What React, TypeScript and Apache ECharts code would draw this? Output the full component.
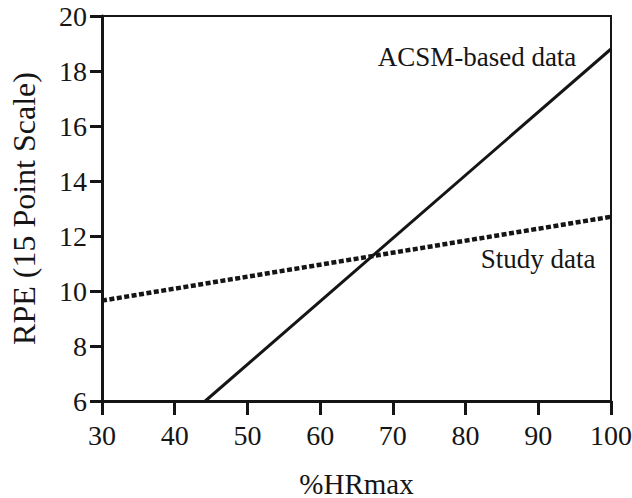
import React, { useEffect, useRef } from "react";
import * as echarts from "echarts";

const acsmX = [44.2, 100];
const acsmY = [6, 18.8];
const studyX = [30, 100];
const studyY = [9.65, 12.7];
const xTicks = [30, 40, 50, 60, 70, 80, 90, 100];
const yTicks = [6, 8, 10, 12, 14, 16, 18, 20];
const acsmName = "ACSM-based data";
const studyName = "Study data";

const FONT = "Liberation Serif";
const INK = "#151515";

export default function App() {
  const ref = useRef<HTMLDivElement>(null);
  useEffect(() => {
    if (!ref.current) return;
    const chart = echarts.init(ref.current, null, { renderer: "svg" });
    chart.setOption({
      animation: false,
      backgroundColor: "#ffffff",
      textStyle: { fontFamily: FONT, color: INK },
      grid: {
        left: 102,
        right: 21,
        top: 16,
        bottom: 97,
        containLabel: false,
        outerBoundsMode: "none",
        show: true,
        borderColor: INK,
        borderWidth: 2,
        backgroundColor: "transparent",
      },
      xAxis: {
        type: "value",
        min: xTicks[0],
        max: xTicks[xTicks.length - 1],
        interval: 10,
        name: "%HRmax",
        nameLocation: "middle",
        nameGap: 68,
        nameMoveOverlap: false,
        nameTextStyle: { fontFamily: FONT, fontSize: 29, lineHeight: 29, color: INK },
        axisLine: { show: true, onZero: false, lineStyle: { color: INK, width: 3 } },
        axisTick: { show: true, inside: false, length: 14, lineStyle: { color: INK, width: 3 } },
        axisLabel: {
          show: true,
          margin: 20,
          formatter: "{t|{value}}",
          rich: { t: { fontFamily: FONT, fontSize: 28, color: INK } },
        },
        splitLine: { show: false },
      },
      yAxis: {
        type: "value",
        min: yTicks[0],
        max: yTicks[yTicks.length - 1],
        interval: 2,
        name: "RPE (15 Point Scale)",
        nameLocation: "middle",
        nameGap: 62,
        nameMoveOverlap: false,
        nameTextStyle: { fontFamily: FONT, fontSize: 32, lineHeight: 32, color: INK },
        axisLine: { show: true, onZero: false, lineStyle: { color: INK, width: 3 } },
        axisTick: { show: true, inside: false, length: 12, lineStyle: { color: INK, width: 3 } },
        axisLabel: {
          show: true,
          margin: 15,
          formatter: "{t|{value}}",
          rich: { t: { fontFamily: FONT, fontSize: 28, color: INK } },
        },
        splitLine: { show: false },
      },
      series: [
        {
          name: acsmName,
          type: "line",
          data: acsmX.map((x, i) => [x, acsmY[i]]),
          showSymbol: false,
          lineStyle: { color: INK, width: 3 },
        },
        {
          name: studyName,
          type: "line",
          data: studyX.map((x, i) => [x, studyY[i]]),
          showSymbol: false,
          lineStyle: { color: INK, width: 4.5, type: [5, 2.5] },
        },
      ],
      graphic: [
        {
          type: "text",
          x: 477,
          y: 57,
          style: {
            text: acsmName,
            fontFamily: FONT,
            fontSize: 27,
            fill: INK,
            textAlign: "center",
            textVerticalAlign: "middle",
          },
        },
        {
          type: "text",
          x: 538,
          y: 259,
          style: {
            text: studyName,
            fontFamily: FONT,
            fontSize: 27,
            fill: INK,
            textAlign: "center",
            textVerticalAlign: "middle",
          },
        },
      ],
    });
    return () => chart.dispose();
  }, []);
  return (
    <div
      ref={ref}
      style={{ position: "fixed", left: 0, top: 0, width: 632, height: 498, background: "#fff" }}
    />
  );
}
